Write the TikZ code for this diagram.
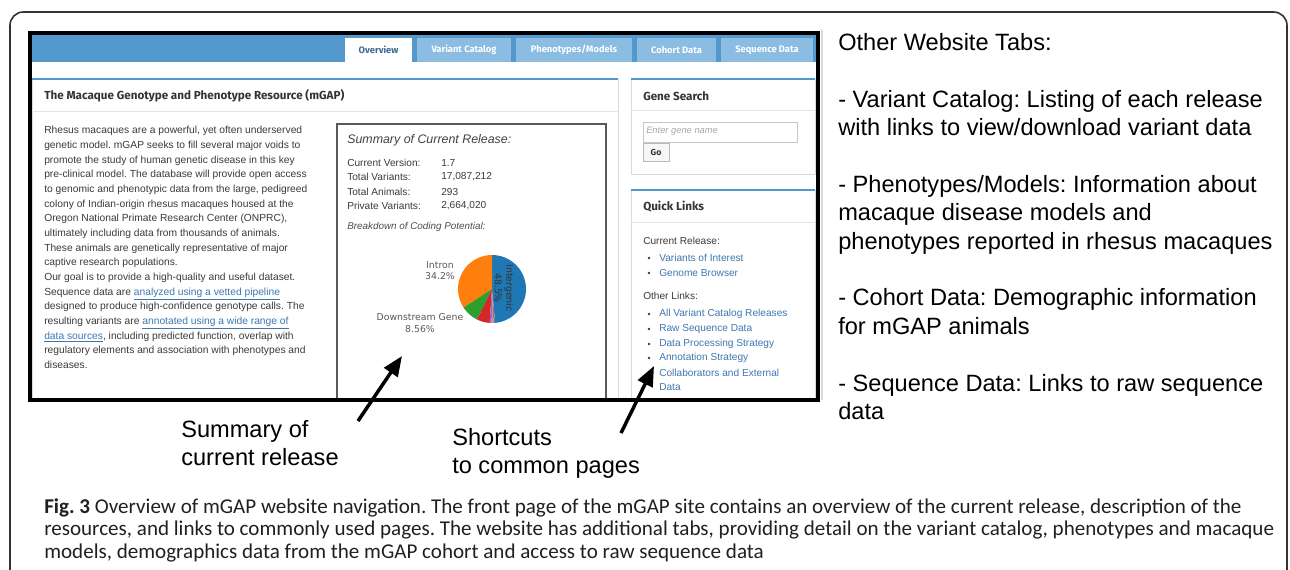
\documentclass[tikz,border=0pt]{standalone}
\usepackage{fontspec}
\setmainfont{Liberation Sans}
\newfontfamily\uifont{Fira Sans}
\newfontfamily\capfont{Carlito}
\newfontfamily\piefont{DejaVu Sans}
\usetikzlibrary{arrows.meta}
\frenchspacing

\definecolor{barblue}{HTML}{5499CD}
\definecolor{tabblue}{HTML}{8BBCE2}
\definecolor{ovtext}{HTML}{3D6A93}
\definecolor{titletext}{HTML}{333333}
\definecolor{bodytext}{HTML}{3A3A3A}
\definecolor{linkblue}{HTML}{3E76B0}
\definecolor{panelgray}{HTML}{DADADA}
\definecolor{captext}{HTML}{231F20}
\definecolor{pieblue}{HTML}{1F77B4}
\definecolor{pieorange}{HTML}{FF7F0E}
\definecolor{piegreen}{HTML}{2CA02C}
\definecolor{piered}{HTML}{D62728}
\definecolor{piepurple}{HTML}{9467BD}
\definecolor{piepink}{HTML}{E377C2}
\definecolor{piegray}{HTML}{7F7F7F}

\begin{document}
\begin{tikzpicture}[
    x=0.75pt, y=-0.75pt,
    every node/.style={inner sep=0pt},
    uitab/.style={fill=tabblue, text=white, minimum height=18pt,
        font=\uifont\bfseries\fontsize{7}{8}\selectfont},
    paneltitle/.style={anchor=west, text=titletext,
        font=\uifont\bfseries\fontsize{8.75}{10}\selectfont},
    panelbox/.style={draw=panelgray, line width=0.6pt},
    paneltop/.style={draw=barblue, line width=1.6pt},
    smalltext/.style={anchor=west, text=bodytext, font=\fontsize{7.6}{11}\selectfont},
    linktext/.style={smalltext, text=linkblue},
    pielabel/.style={align=center, text=black!65, font=\piefont\fontsize{7}{8.6}\selectfont},
    bignote/.style={anchor=north west, align=left, font=\fontsize{17.7}{21.3}\selectfont},
    pointer/.style={line width=2.6pt, -{Triangle[length=15pt, width=12pt]}},
    ]

    \useasboundingbox (0,0) rectangle (1290,569);
    \clip (0,0) rectangle (1290,569);

    % outer frame
    \draw[line width=1.2pt, black!80, rounded corners=10pt] (10,12) rectangle (1287,640);

    \begin{scope}
    \clip (30,33) rectangle (818,400);
    % screenshot: tab bar
    \fill[barblue] (30,33) rectangle (818,62);
    \node[fill=white, text=ovtext, minimum width=50.25pt, minimum height=18pt,
        font=\uifont\bfseries\fontsize{7}{8}\selectfont] (tabov) at (378.5,50) {Overview};
    \foreach \l/\r/\lbl/\nm in {417/511/Variant Catalog/tabvc, 516/632/{Phenotypes/Models}/tabpm,
                               637/716/Cohort Data/tabcd, 721/813/Sequence Data/tabsd}{
    \node[uitab, minimum width={(\r-\l)*0.75pt}] (\nm) at ({(\l+\r)/2},50) {\lbl};
    }

    % left panel
    \draw[panelbox] (32,79) rectangle (618,420);
    \draw[panelgray!70] (32,111) -- (618,111);
    \draw[paneltop] (32,79) -- (618,79);
    \node[paneltitle] (maintitle) at (44,96) {The Macaque Genotype and Phenotype Resource (mGAP)};

    \node[anchor=north west, align=left, text=bodytext, font=\fontsize{7.7}{11}\selectfont]
    (about) at (44,126) {Rhesus macaques are a powerful, yet often underserved\\
    genetic model. mGAP seeks to fill several major voids to\\
    promote the study of human genetic disease in this key\\
    pre-clinical model. The database will provide open access\\
    to genomic and phenotypic data from the large, pedigreed\\
    colony of Indian-origin rhesus macaques housed at the\\
    Oregon National Primate Research Center (ONPRC),\\
    ultimately including data from thousands of animals.\\
    These animals are genetically representative of major\\
    captive research populations.\\
    Our goal is to provide a high-quality and useful dataset.\\
    Sequence data are \textcolor{linkblue}{\underline{analyzed using a vetted pipeline}}\\
    designed to produce high-confidence genotype calls. The\\
    resulting variants are \textcolor{linkblue}{\underline{annotated using a wide range of}}\\
    \textcolor{linkblue}{\underline{data sources}}, including predicted function, overlap with\\
    regulatory elements and association with phenotypes and\\
    diseases.};

    % summary box
    \draw[black!65, line width=0.8pt] (337,420) -- (337,124) -- (606,124) -- (606,420);
    \node[anchor=west, text=black!75, font=\itshape\fontsize{9.3}{11}\selectfont]
    (sumtitle) at (347,140) {Summary of Current Release:};
    \foreach \yy/\key/\val/\nm in {163/Current Version:/1.7/rowver, 177/Total Variants:/{17,087,212}/rowvar,
                                  192/Total Animals:/293/rowani, 206/Private Variants:/{2,664,020}/rowpriv}{
    \node[smalltext] (\nm) at (347,\yy) {\key};
    \node[smalltext] (\nm v) at (441,\yy) {\val};
    }
    \node[anchor=west, text=black!70, font=\itshape\fontsize{7.4}{9}\selectfont]
    (breakdown) at (347,227) {Breakdown of Coding Potential:};

    % pie
    \begin{scope}[shift={(492,289)}, x=0.75pt, y=0.75pt]
    \foreach \a/\b/\c in {-84.6/90/pieblue, 90/213.1/pieorange, 213.1/243.9/piegreen,
                         243.9/266/piered, 266/269.5/piepurple, 269.5/272.5/piepink, 272.5/275.4/piegray}{
        \fill[\c] (0,0) -- (\a:34) arc[start angle=\a, end angle=\b, radius=34] -- cycle;
    }
    \end{scope}
    \node[pielabel] (intron) at (440,270.5) {Intron\\34.2\%};
    \node[pielabel] (downstream) at (420,323) {Downstream Gene\\8.56\%};
    \node[pielabel, rotate=-90, text=black!80] (intergenic) at (504,288) {Intergenic\\48.5\%};

    % right panels
    \draw[panelbox] (631,79) rectangle (815,174);
    \draw[panelgray!70] (631,110) -- (815,110);
    \draw[paneltop] (631,79) -- (815,79);
    \node[paneltitle] (genetitle) at (643,96) {Gene Search};
    \draw[gray!45, line width=0.6pt] (643,122) rectangle (797,142);
    \node[anchor=west, text=gray!70, font=\itshape\fontsize{7}{8}\selectfont] (genefield) at (646,131) {Enter gene name};
    \node[draw=gray!55, fill=gray!6, line width=0.6pt, minimum width=19.5pt, minimum height=14pt,
        text=titletext, font=\uifont\bfseries\fontsize{6.5}{8}\selectfont] (gobtn) at (656,152.5) {Go};

    \draw[panelbox] (631,190) rectangle (815,420);
    \draw[panelgray!70] (631,222) -- (815,222);
    \draw[paneltop] (631,190) -- (815,190);
    \node[paneltitle] (quicktitle) at (643,207) {Quick Links};
    \node[smalltext] (currel) at (643,241) {Current Release:};
    \node[smalltext] (othlinks) at (643,296) {Other Links:};
    \foreach \yy/\lbl/\nm in {258/Variants of Interest/qlvoi, 273/Genome Browser/qlgb,
                             314/All Variant Catalog Releases/qlall, 329/Raw Sequence Data/qlraw,
                             344/Data Processing Strategy/qldps, 358/Annotation Strategy/qlann,
                             373/Collaborators and External/qlcol}{
    \fill[bodytext] (649,\yy) circle (1.3);
    \node[linktext] (\nm) at (659,\yy) {\lbl};
    }
    \node[linktext] (qlcol2) at (659,387) {Data};
    \end{scope}

    % screenshot border
    \draw[gray!30, line width=0.8pt] (822,30) -- (822,400);
    \draw[line width=2.4pt] (30,33) rectangle (818,400);

    % notes and pointers
    \node[bignote] (tabnotes) at (838,33) {Other Website Tabs:\\[21.3pt]
    - Variant Catalog: Listing of each release\\
    with links to view/download variant data\\[21.3pt]
    - Phenotypes/Models: Information about\\
    macaque disease models and\\
    phenotypes reported in rhesus macaques\\[21.3pt]
    - Cohort Data: Demographic information\\
    for mGAP animals\\[21.3pt]
    - Sequence Data: Links to raw sequence\\
    data};

    \node[bignote] (sumnote) at (181,420) {Summary of\\current release};
    \node[bignote] (cutnote) at (452,428) {Shortcuts\\to common pages};

    \coordinate (sumtail) at (358,421);
    \coordinate (sumtip) at (402,356);
    \coordinate (cuttail) at (621,433);
    \coordinate (cuttip) at (654,366);
    \draw[pointer] (sumtail) -- (sumtip);
    \draw[pointer] (cuttail) -- (cuttip);

    % caption
    \node[anchor=north west, align=left, text=captext, font=\capfont\fontsize{15.8}{17.2}\selectfont]
    (caption) at (44,498) {\textbf{Fig. 3} Overview of mGAP website navigation. The front page of the mGAP site contains an overview of the current release, description of the\\
    resources, and links to commonly used pages. The website has additional tabs, providing detail on the variant catalog, phenotypes and macaque\\
    models, demographics data from the mGAP cohort and access to raw sequence data};

\end{tikzpicture}
\end{document}
